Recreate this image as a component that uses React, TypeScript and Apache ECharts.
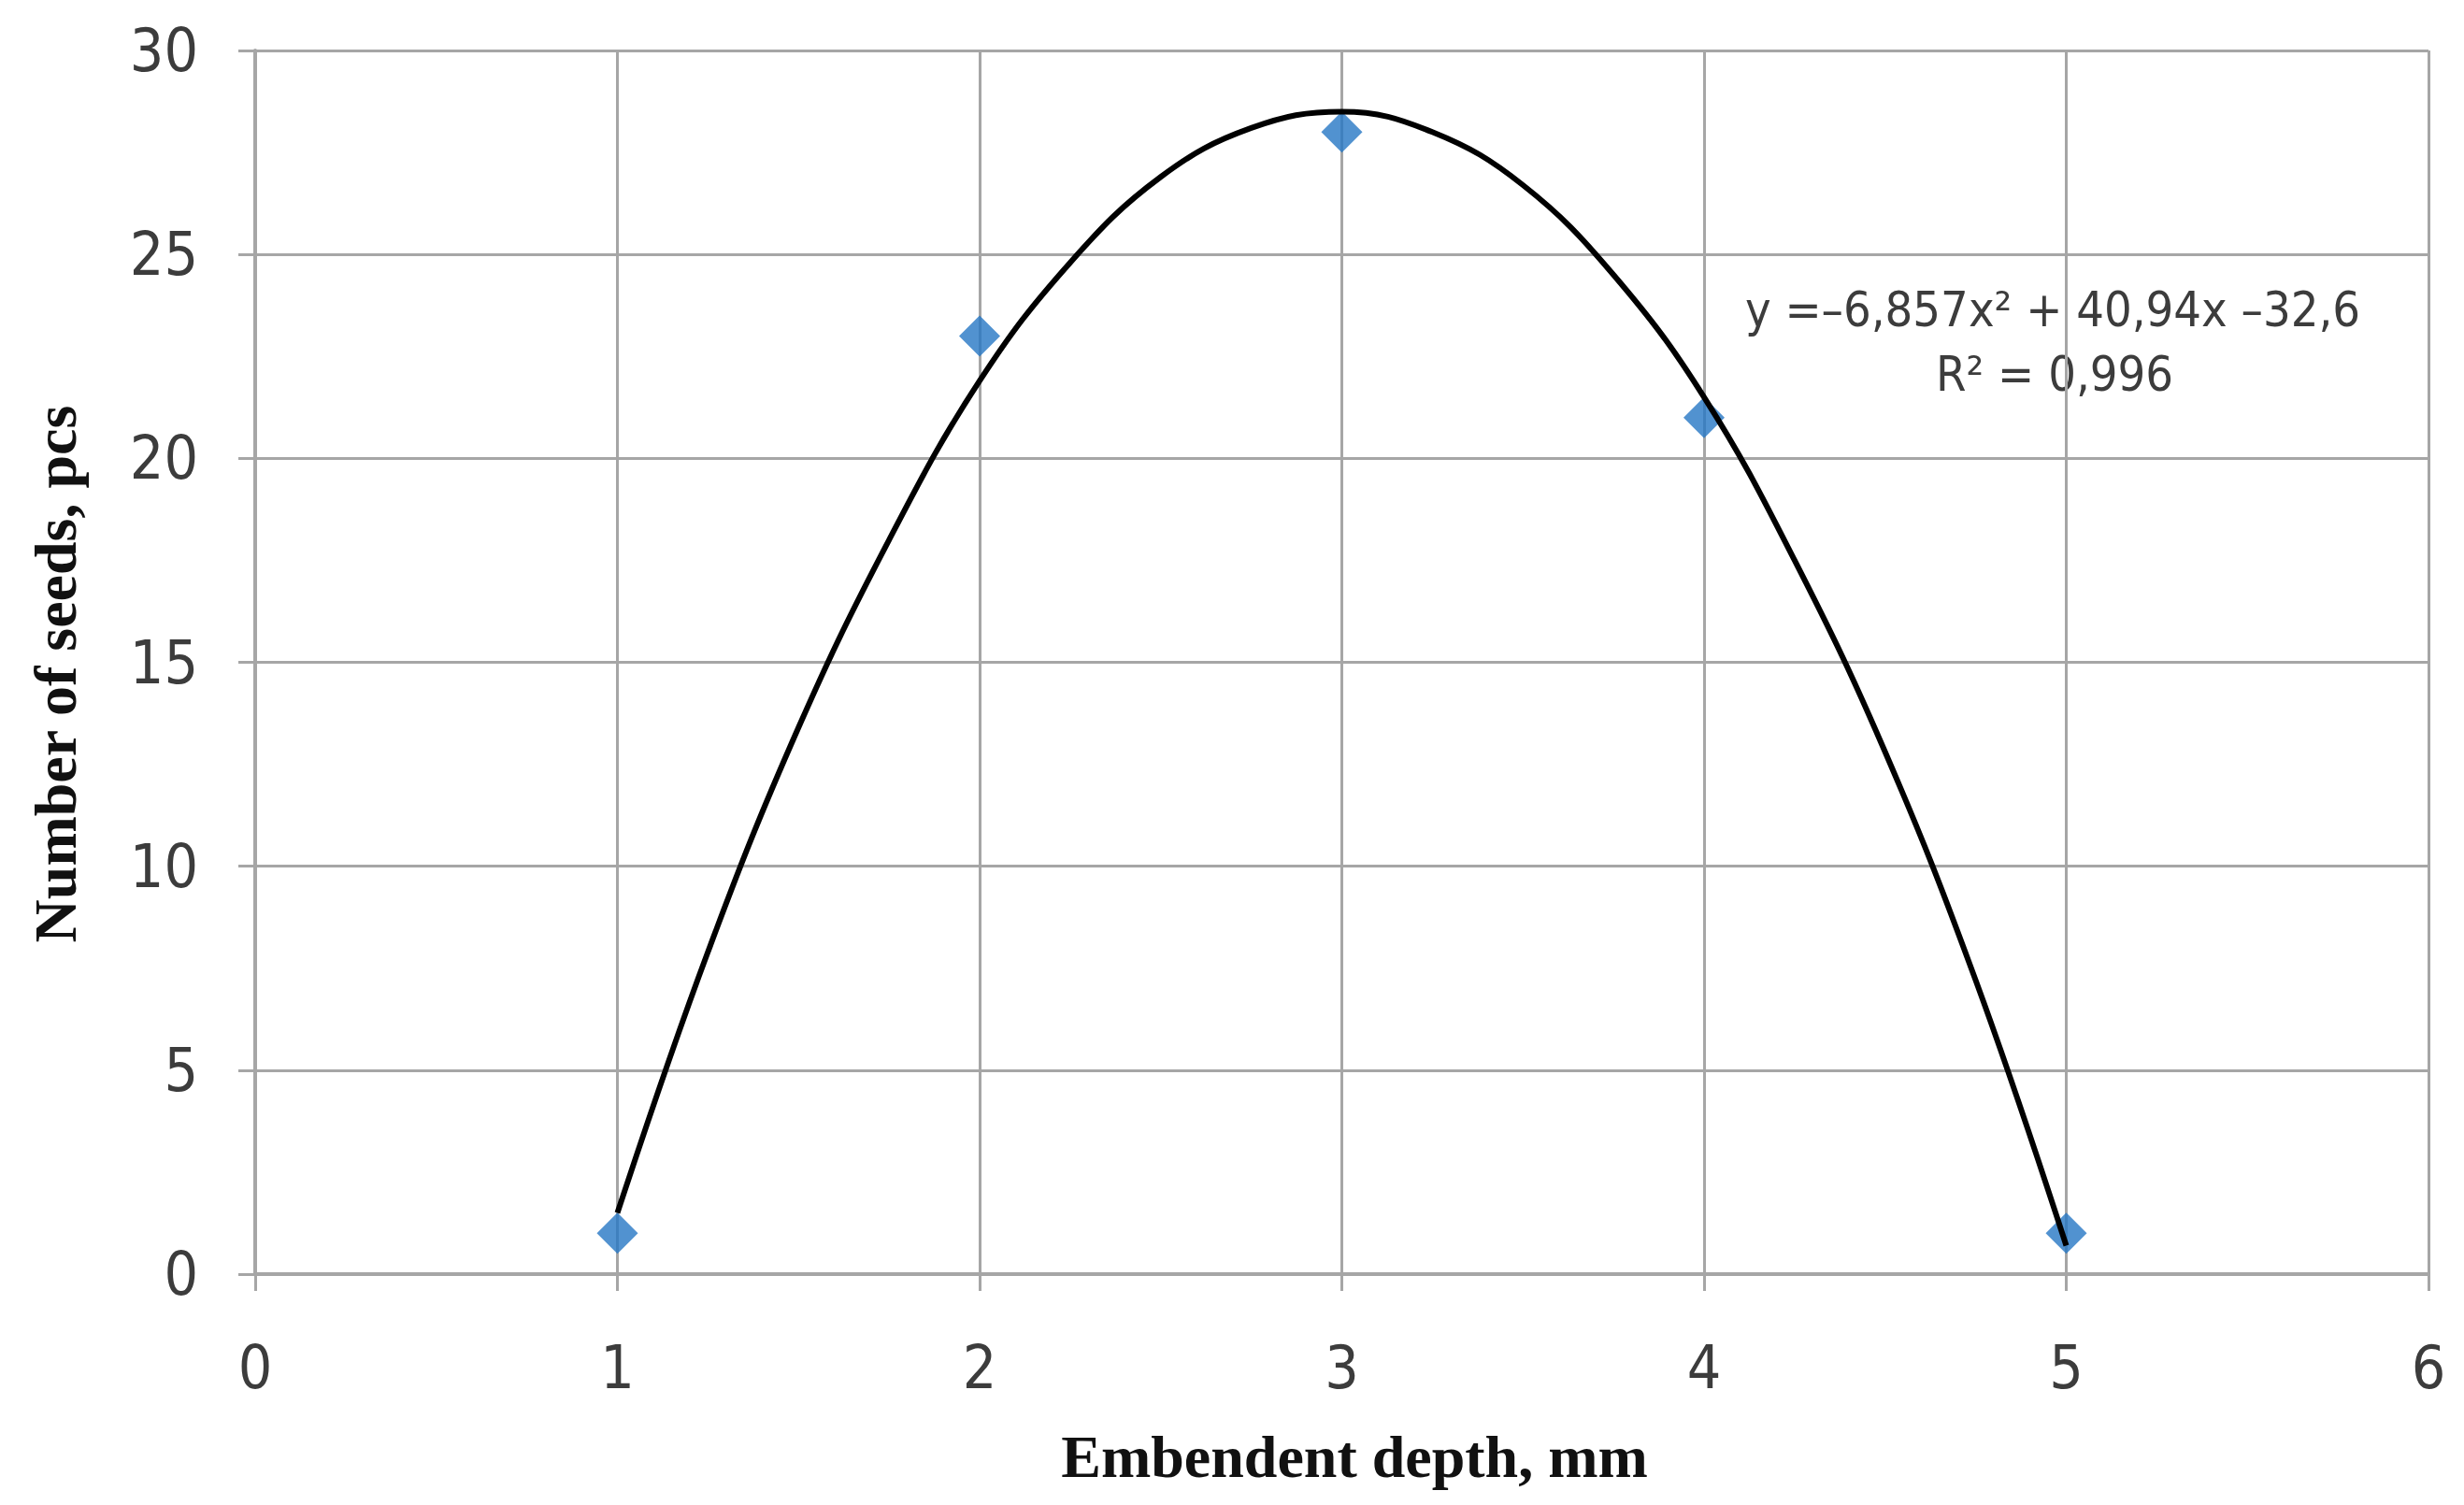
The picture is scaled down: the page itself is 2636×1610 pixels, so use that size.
import React, { useEffect, useRef } from "react";
import * as echarts from "echarts";

// Observed data points (Embendent depth, mm -> Number of seeds, pcs)
const depth = [1, 2, 3, 4, 5];
const seeds = [1, 23, 28, 21, 1];

// Trend curve
const trendX = [1, 1.25, 1.5, 1.75, 2, 2.25, 2.5, 2.75, 3, 3.25, 3.5, 3.75, 4, 4.25, 4.5, 4.75, 5];
const trendY = [1.5, 7.9, 13.4, 18.0, 21.9, 24.8, 26.9, 28.1, 28.5, 28.0, 26.7, 24.5, 21.5, 17.5, 12.8, 7.2, 0.7];

const xRange = { min: 0, max: 6, interval: 1 };
const yRange = { min: 0, max: 30, interval: 5 };

const xTitle = "Embendent depth, mm";
const yTitle = "Number of seeds, pcs";
const equationLine1 = "y =–6,857x² + 40,94x –32,6";
const equationLine2 = "R² = 0,996";

const tickFont = '"Liberation Sans Narrow", "DejaVu Sans Condensed", "Noto Sans", sans-serif';
const titleFont = '"Liberation Serif", "DejaVu Serif", serif';

export default function App() {
  const ref = useRef<HTMLDivElement>(null);

  useEffect(() => {
    document.body.style.margin = "0";
    if (!ref.current) return;
    const chart = echarts.init(ref.current, null, { renderer: "svg" });
    const gridColor = "#a6a6a6";
    const labelColor = "#3c3c3c";

    chart.setOption({
      animation: false,
      backgroundColor: "#ffffff",
      grid: {
        left: 273,
        right: 38,
        top: 54,
        bottom: 247,
        containLabel: false,
        outerBoundsMode: "none",
      },
      xAxis: {
        type: "value",
        min: xRange.min,
        max: xRange.max,
        interval: xRange.interval,
        axisLine: { show: true, lineStyle: { color: gridColor, width: 4 } },
        axisTick: { show: true, length: 18, lineStyle: { color: gridColor, width: 3 } },
        splitLine: { show: true, lineStyle: { color: gridColor, width: 3 } },
        axisLabel: {
          color: labelColor,
          fontFamily: tickFont,
          fontSize: 64,
          margin: 68,
        },
      },
      yAxis: {
        type: "value",
        min: yRange.min,
        max: yRange.max,
        interval: yRange.interval,
        axisLine: { show: true, lineStyle: { color: gridColor, width: 4 } },
        axisTick: { show: true, length: 18, lineStyle: { color: gridColor, width: 3 } },
        splitLine: { show: true, lineStyle: { color: gridColor, width: 3 } },
        axisLabel: {
          color: labelColor,
          fontFamily: tickFont,
          fontSize: 64,
          margin: 61,
        },
      },
      series: [
        {
          type: "scatter",
          data: depth.map((d, i) => [d, seeds[i]]),
          symbol: "diamond",
          symbolSize: 44,
          itemStyle: { color: "#2577c4" },
          z: 2,
        },
        {
          type: "line",
          data: trendX.map((x, i) => [x, trendY[i]]),
          smooth: 0.4,
          showSymbol: false,
          symbol: "none",
          lineStyle: { color: "#000000", width: 6 },
          z: 3,
        },
      ],
      graphic: [
        {
          type: "text",
          x: 2196,
          y: 331,
          style: {
            text: equationLine1,
            font: `52px ${tickFont}`,
            fill: labelColor,
            textAlign: "center",
            textVerticalAlign: "middle",
          },
        },
        {
          type: "text",
          x: 2198,
          y: 400,
          style: {
            text: equationLine2,
            font: `52px ${tickFont}`,
            fill: labelColor,
            textAlign: "center",
            textVerticalAlign: "middle",
          },
        },
        {
          type: "text",
          x: 1449,
          y: 1558,
          style: {
            text: xTitle,
            font: `bold 64px ${titleFont}`,
            fill: "#111111",
            textAlign: "center",
            textVerticalAlign: "middle",
          },
        },
        {
          type: "text",
          x: 59,
          y: 721,
          rotation: Math.PI / 2,
          style: {
            text: yTitle,
            font: `bold 64px ${titleFont}`,
            fill: "#111111",
            textAlign: "center",
            textVerticalAlign: "middle",
          },
        },
      ],
    });

    return () => chart.dispose();
  }, []);

  return <div ref={ref} style={{ width: 2636, height: 1610 }} />;
}
